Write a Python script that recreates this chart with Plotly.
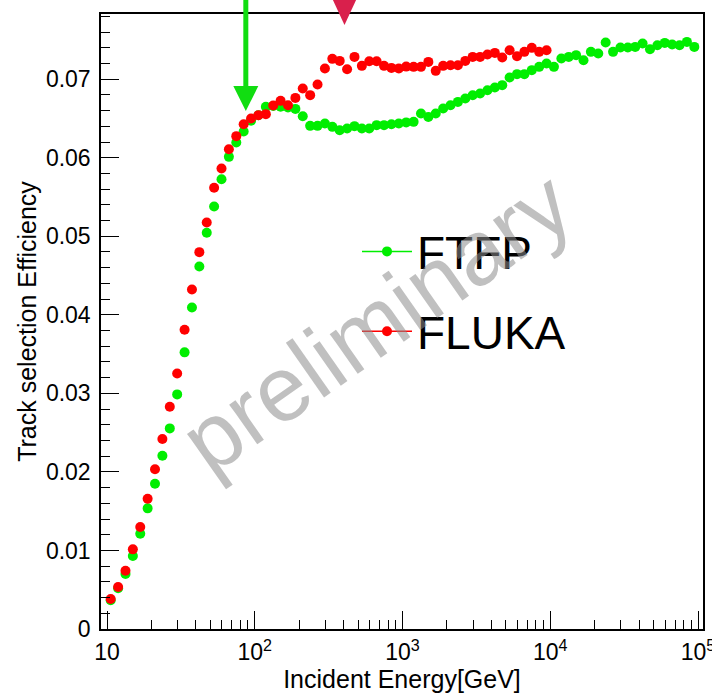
import math
import plotly.graph_objects as go

# Incident energy bin centres [GeV] (20 log bins per decade)
energy = [
    10.59, 11.89, 13.34, 14.96, 16.79, 18.84, 21.13, 23.71, 26.61, 29.85,
    33.50, 37.58, 42.17, 47.32, 53.09, 59.57, 66.83, 74.99, 84.14, 94.41,
    105.9, 118.9, 133.4, 149.6, 167.9, 188.4, 211.3, 237.1, 266.1, 298.5,
    335.0, 375.8, 421.7, 473.2, 530.9, 595.7, 668.3, 749.9, 841.4, 944.1,
    1059, 1189, 1334, 1496, 1679, 1884, 2113, 2371, 2661, 2985,
    3350, 3758, 4217, 4732, 5309, 5957, 6683, 7499, 8414, 9441,
    10590, 11890, 13340, 14960, 16790, 18840, 21130, 23710, 26610, 29850,
    33500, 37580, 42170, 47320, 53090, 59570, 66830, 74990, 84140, 94410,
]

# Track selection efficiency, FTFP physics list
eff_ftfp = [
    0.00365, 0.00518, 0.00700, 0.00929, 0.01213, 0.01536, 0.01849, 0.02206, 0.02554, 0.02987,
    0.03522, 0.04094, 0.04616, 0.05044, 0.05380, 0.05727, 0.06011, 0.06194, 0.06334, 0.06470,
    0.06540, 0.06648, 0.06660, 0.06650, 0.06640, 0.06622, 0.06529, 0.06406, 0.06406, 0.06436,
    0.06393, 0.06351, 0.06373, 0.06402, 0.06373, 0.06373, 0.06415, 0.06415, 0.06427, 0.06436,
    0.06450, 0.06457, 0.06563, 0.06520, 0.06563, 0.06627, 0.06669, 0.06711, 0.06754, 0.06796,
    0.06818, 0.06860, 0.06894, 0.06924, 0.07022, 0.07064, 0.07064, 0.07115, 0.07157, 0.07200,
    0.07157, 0.07264, 0.07284, 0.07306, 0.07242, 0.07348, 0.07327, 0.07467, 0.07348, 0.07404,
    0.07404, 0.07411, 0.07454, 0.07382, 0.07433, 0.07462, 0.07442, 0.07433, 0.07475, 0.07411,
]

# Track selection efficiency, FLUKA (up to 10 TeV)
eff_fluka = [
    0.00382, 0.00535, 0.00742, 0.01014, 0.01298, 0.01658, 0.02033, 0.02420, 0.02830, 0.03254,
    0.03810, 0.04323, 0.04798, 0.05176, 0.05617, 0.05863, 0.06109, 0.06275, 0.06427, 0.06500,
    0.06542, 0.06555, 0.06665, 0.06724, 0.06669, 0.06762, 0.06882, 0.06797, 0.06933, 0.07136,
    0.07259, 0.07233, 0.07127, 0.07284, 0.07170, 0.07229, 0.07229, 0.07170, 0.07144, 0.07136,
    0.07160, 0.07157, 0.07157, 0.07220, 0.07106, 0.07170, 0.07178, 0.07178, 0.07233, 0.07284,
    0.07284, 0.07314, 0.07335, 0.07276, 0.07369, 0.07293, 0.07348, 0.07399, 0.07348, 0.07369,
]

# Energies flagged with markers above the frame
arrow_ftfp_energy = 87.0
arrow_fluka_energy = 405.0

x_major = [10, 100, 1000, 10000, 100000]
x_major_text = ["10", "10<sup>2</sup>", "10<sup>3</sup>", "10<sup>4</sup>", "10<sup>5</sup>"]
x_minor = [m * 10 ** d for d in range(1, 5) for m in range(2, 10)]
y_major = [0, 0.01, 0.02, 0.03, 0.04, 0.05, 0.06, 0.07]
y_major_text = ["0", "0.01", "0.02", "0.03", "0.04", "0.05", "0.06", "0.07"]

X_RANGE = [0.9594, 5.0338]   # log10 units
Y_RANGE = [0.0, 0.0783]

W, H = 712, 693
ML, MR, MT, MB = 101, 9, 14, 64
PW, PH = W - ML - MR, H - MT - MB

FONT = "Liberation Sans, Arial, Helvetica, sans-serif"
GREEN = "#00ee00"
RED = "#ff0000"

fig = go.Figure()

# data points (markers only); legend entries are drawn by the line+marker traces below
fig.add_trace(go.Scatter(
    x=energy, y=eff_ftfp, mode="markers", name="FTFP",
    marker=dict(color=GREEN, size=10, line=dict(width=0)),
    legendgroup="a", showlegend=False,
))
fig.add_trace(go.Scatter(
    x=energy[:len(eff_fluka)], y=eff_fluka, mode="markers", name="FLUKA",
    marker=dict(color=RED, size=10, line=dict(width=0)),
    legendgroup="b", showlegend=False,
))
fig.add_trace(go.Scatter(
    x=[None], y=[None], mode="lines+markers", name="FTFP",
    line=dict(color=GREEN, width=1.5), marker=dict(color=GREEN, size=10),
    legendgroup="a",
))
fig.add_trace(go.Scatter(
    x=[None], y=[None], mode="lines+markers", name="FLUKA",
    line=dict(color=RED, width=1.5), marker=dict(color=RED, size=10),
    legendgroup="b",
))


def xpaper(e):
    return (math.log10(e) - X_RANGE[0]) / (X_RANGE[1] - X_RANGE[0])


def dy(p):
    return p / PH


def dx(p):
    return p / PW


shapes = []
# green arrow for FTFP
gx = xpaper(arrow_ftfp_energy)
shapes.append(dict(type="line", xref="paper", yref="paper",
                   x0=gx, x1=gx, y0=1 + dy(20), y1=1 - dy(74),
                   line=dict(color="#11dd11", width=5)))
shapes.append(dict(type="path", xref="paper", yref="paper",
                   path=f"M {gx - dx(12.5)},{1 - dy(72)} L {gx + dx(12.5)},{1 - dy(72)} "
                        f"L {gx},{1 - dy(97)} Z",
                   fillcolor="#11dd11", line=dict(width=0)))
# red triangle for FLUKA
rx = xpaper(arrow_fluka_energy)
shapes.append(dict(type="path", xref="paper", yref="paper",
                   path=f"M {rx - dx(12.5)},{1 + dy(16)} L {rx + dx(12.5)},{1 + dy(16)} "
                        f"L {rx},{1 - dy(11)} Z",
                   fillcolor="#d9204c", line=dict(width=0)))

tick_font = dict(family=FONT, size=23, color="black")
title_font = dict(family=FONT, size=25, color="black")

fig.update_layout(
    width=W, height=H,
    margin=dict(l=ML, r=MR, t=MT, b=MB, pad=0, autoexpand=False),
    paper_bgcolor="white", plot_bgcolor="white",
    font=dict(family=FONT, color="black"),
    showlegend=True,
    legend=dict(
        x=(357 - ML) / PW, y=(MT + PH - 215) / PH, xanchor="left", yanchor="top",
        bgcolor="rgba(0,0,0,0)", borderwidth=0,
        font=dict(family=FONT, size=46, color="black"),
        traceorder="grouped", tracegroupgap=17, itemwidth=50,
    ),
    xaxis=dict(
        type="log", range=X_RANGE, automargin=False,
        tickvals=x_major, ticktext=x_major_text,
        ticks="inside", ticklen=18, tickwidth=1, tickcolor="black",
        tickfont=tick_font, ticklabelstandoff=2, ticklabeloverflow="allow",
        minor=dict(tickvals=x_minor, ticks="inside", ticklen=9, tickwidth=1, tickcolor="black",
                   showgrid=False),
        showgrid=False, zeroline=False,
        showline=True, linecolor="black", linewidth=1.5, mirror=True,
        title=dict(text="Incident Energy[GeV]", font=title_font, standoff=5),
    ),
    yaxis=dict(
        range=Y_RANGE, automargin=False,
        tickvals=y_major, ticktext=y_major_text,
        ticks="inside", ticklen=18, tickwidth=1, tickcolor="black",
        tickfont=tick_font, ticklabelstandoff=4,
        minor=dict(dtick=0.002, tick0=0, ticks="inside", ticklen=9, tickwidth=1, tickcolor="black",
                   showgrid=False),
        showgrid=False, zeroline=False,
        showline=True, linecolor="black", linewidth=1.5, mirror=True,
        title=dict(text="Track selection Efficiency", font=title_font, standoff=2),
    ),
    shapes=shapes,
    annotations=[dict(
        text="preliminary", xref="paper", yref="paper",
        x=(376 - ML) / PW, y=(MT + PH - 322) / PH,
        showarrow=False, textangle=-35,
        font=dict(family=FONT, size=92, color="rgba(140,140,140,0.55)"),
    )],
)

fig.write_html("out.html")
